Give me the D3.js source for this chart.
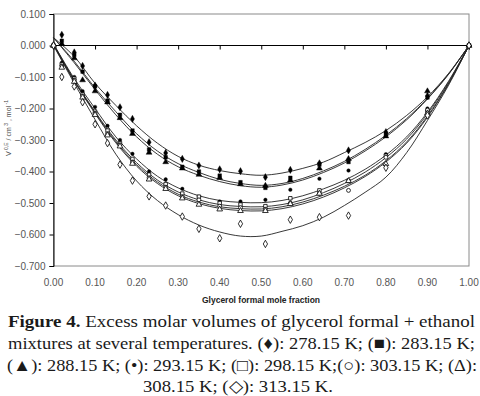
<!DOCTYPE html>
<html>
<head>
<meta charset="utf-8">
<script src="https://cdn.jsdelivr.net/npm/d3@7"></script>
<style>
  body { margin: 0; background: #fff; }
  svg { display: block; }
</style>
</head>
<body>
<div id="chart"></div>
<script>
// measured mole fractions (same for every temperature)
const xPoints = [0, 0.02, 0.05, 0.07, 0.10, 0.13, 0.16, 0.19, 0.23, 0.27, 0.31,
  0.35, 0.40, 0.45, 0.51, 0.57, 0.64, 0.71, 0.80, 0.90, 1.00];
// grid used for the fitted curves
const xCurve = [0, 0.05, 0.10, 0.15, 0.20, 0.25, 0.30, 0.35, 0.40, 0.45, 0.50,
  0.55, 0.60, 0.65, 0.70, 0.75, 0.80, 0.85, 0.90, 0.95, 1.00];

const temps = ["278.15", "283.15", "288.15", "293.15", "298.15", "303.15", "308.15", "313.15"];

// experimental points, V0E / cm3 mol-1
const p278 = [0, 0.034, -0.022, -0.065, -0.127, -0.157, -0.196, -0.233, -0.307, -0.341, -0.360,
  -0.381, -0.393, -0.399, -0.418, -0.395, -0.374, -0.333, -0.275, -0.160, 0];
const p283 = [0, 0.015, -0.030, -0.083, -0.130, -0.175, -0.220, -0.270, -0.330, -0.355, -0.385,
  -0.400, -0.413, -0.434, -0.452, -0.420, -0.378, -0.370, -0.282, -0.165, 0];
const p288 = [0, 0.005, -0.040, -0.110, -0.145, -0.180, -0.230, -0.280, -0.340, -0.370, -0.390,
  -0.410, -0.420, -0.440, -0.445, -0.428, -0.390, -0.360, -0.288, -0.145, 0];
const p293 = [0, -0.055, -0.100, -0.145, -0.195, -0.255, -0.300, -0.344, -0.400, -0.425, -0.455,
  -0.480, -0.495, -0.495, -0.490, -0.458, -0.423, -0.397, -0.345, -0.200, 0];
const p298 = [0, -0.060, -0.105, -0.155, -0.210, -0.270, -0.310, -0.360, -0.410, -0.440, -0.470,
  -0.480, -0.500, -0.505, -0.510, -0.485, -0.460, -0.430, -0.350, -0.210, 0];
const p303 = [0, -0.065, -0.110, -0.160, -0.215, -0.280, -0.315, -0.370, -0.420, -0.450, -0.480,
  -0.490, -0.510, -0.515, -0.520, -0.500, -0.470, -0.460, -0.355, -0.205, 0];
const p308 = [0, -0.070, -0.115, -0.165, -0.220, -0.285, -0.320, -0.375, -0.425, -0.455, -0.485,
  -0.505, -0.520, -0.525, -0.525, -0.503, -0.470, -0.430, -0.376, -0.215, 0];
const p313 = [0, -0.100, -0.130, -0.180, -0.250, -0.310, -0.378, -0.429, -0.479, -0.508, -0.543,
  -0.582, -0.612, -0.566, -0.630, -0.553, -0.545, -0.540, -0.388, -0.222, 0];

// fitted curves
const c278 = [0.025, -0.035, -0.120, -0.190, -0.255, -0.310, -0.352, -0.380, -0.397, -0.407, -0.412,
  -0.405, -0.390, -0.370, -0.340, -0.308, -0.270, -0.222, -0.163, -0.090, 0];
const c283 = [0.025, -0.050, -0.135, -0.210, -0.280, -0.335, -0.375, -0.403, -0.425, -0.438, -0.444,
  -0.438, -0.422, -0.398, -0.368, -0.330, -0.285, -0.232, -0.168, -0.092, 0];
const c288 = [0.025, -0.055, -0.140, -0.220, -0.290, -0.345, -0.385, -0.412, -0.432, -0.445, -0.450,
  -0.443, -0.427, -0.403, -0.373, -0.335, -0.290, -0.236, -0.170, -0.093, 0];
const c293 = [0.005, -0.105, -0.200, -0.290, -0.360, -0.415, -0.452, -0.477, -0.492, -0.498, -0.499,
  -0.492, -0.477, -0.455, -0.428, -0.393, -0.348, -0.290, -0.212, -0.115, 0];
const c298 = [0.005, -0.110, -0.210, -0.300, -0.372, -0.427, -0.465, -0.490, -0.505, -0.511, -0.512,
  -0.505, -0.490, -0.467, -0.438, -0.402, -0.356, -0.297, -0.217, -0.118, 0];
const c303 = [0.003, -0.112, -0.213, -0.305, -0.378, -0.433, -0.472, -0.497, -0.512, -0.518, -0.519,
  -0.512, -0.497, -0.475, -0.447, -0.412, -0.366, -0.306, -0.224, -0.122, 0];
const c308 = [0.002, -0.114, -0.216, -0.309, -0.383, -0.438, -0.477, -0.502, -0.517, -0.524, -0.525,
  -0.518, -0.503, -0.481, -0.452, -0.416, -0.370, -0.310, -0.228, -0.124, 0];
const c313 = [0, -0.120, -0.235, -0.345, -0.430, -0.492, -0.537, -0.570, -0.592, -0.605, -0.605,
  -0.590, -0.572, -0.545, -0.508, -0.466, -0.418, -0.340, -0.238, -0.128, 0];

const pointSets = [p278, p283, p288, p293, p298, p303, p308, p313];
const curveSets = [c278, c283, c288, c293, c298, c303, c308, c313];

const xTicks = [0, 0.1, 0.2, 0.3, 0.4, 0.5, 0.6, 0.7, 0.8, 0.9, 1.0];
const yTicks = [0.1, 0, -0.1, -0.2, -0.3, -0.4, -0.5, -0.6, -0.7];

const captionLines = [
  "Excess molar volumes of glycerol formal + ethanol",
  "mixtures at several temperatures. (\u2666): 278.15 K; (\u25A0): 283.15 K;",
  "(\u25B2): 288.15 K; (\u2022): 293.15 K; (\u25A1): 298.15 K;(\u25CB): 303.15 K; (\u0394):",
  "308.15 K; (\u25C7): 313.15 K."
];

// marker style per temperature
const markers = [
  { type: d3.symbolDiamond, size: 15, fill: true },
  { type: d3.symbolSquare, size: 13, fill: true },
  { type: d3.symbolTriangle, size: 15, fill: true },
  { type: d3.symbolCircle, size: 10, fill: true },
  { type: d3.symbolSquare, size: 12, fill: false },
  { type: d3.symbolCircle, size: 12, fill: false },
  { type: d3.symbolTriangle, size: 14, fill: false },
  { type: d3.symbolDiamond, size: 16, fill: false }
];

const width = 480, height = 396;
const plot = { left: 53.5, right: 469, top: 14, bottom: 266 };
const AXIS_FONT = "'Liberation Sans', Arial, sans-serif";
const SERIF = "'Liberation Serif', 'Times New Roman', serif";

const svg = d3.select("#chart").append("svg")
  .attr("width", width).attr("height", height);

const x = d3.scaleLinear().domain([0, 1]).range([plot.left, plot.right]);
const y = d3.scaleLinear().domain([-0.7, 0.1]).range([plot.bottom, plot.top]);

// plot frame
svg.append("rect")
  .attr("x", plot.left).attr("y", plot.top)
  .attr("width", plot.right - plot.left).attr("height", plot.bottom - plot.top)
  .attr("fill", "none").attr("stroke", "#8a8a8a").attr("stroke-width", 1);

// y axis
const yAxis = svg.append("g")
  .attr("transform", `translate(${plot.left},0)`)
  .call(d3.axisLeft(y).tickValues(yTicks).tickFormat(d3.format(".3f")).tickSize(4).tickPadding(4));
yAxis.select(".domain").attr("stroke", "#000");
yAxis.selectAll(".tick line").attr("stroke", "#000");
yAxis.selectAll("text").attr("font-family", AXIS_FONT).attr("font-size", 10).attr("fill", "#555");

// zero line with x ticks
const xAxis = svg.append("g")
  .attr("transform", `translate(0,${y(0)})`)
  .call(d3.axisBottom(x).tickValues(xTicks).tickSize(4).tickFormat(""));
xAxis.select(".domain").attr("stroke", "#000").attr("d", `M${plot.left},0H${plot.right}`);
xAxis.selectAll(".tick line").attr("stroke", "#000");

// x tick labels at the bottom of the plot
svg.append("g").selectAll("text")
  .data(xTicks)
  .enter().append("text")
  .attr("x", (d) => x(d))
  .attr("y", plot.bottom + 20)
  .attr("text-anchor", "middle")
  .attr("font-family", AXIS_FONT).attr("font-size", 10).attr("fill", "#555")
  .text((d) => d3.format(".2f")(d));

// axis titles
svg.append("text")
  .attr("x", 261).attr("y", 303)
  .attr("text-anchor", "middle")
  .attr("font-family", AXIS_FONT).attr("font-size", 8.5).attr("font-weight", "bold")
  .attr("fill", "#222")
  .text("Glycerol formal mole fraction");

const yTitle = svg.append("text")
  .attr("transform", "translate(11,128) rotate(-90)")
  .attr("text-anchor", "middle")
  .attr("font-family", AXIS_FONT).attr("font-size", 7).attr("fill", "#444");
yTitle.append("tspan").text("V");
yTitle.append("tspan").attr("dy", -3).attr("font-size", 5).text(" 0,E");
yTitle.append("tspan").attr("dy", 3).text(" / cm");
yTitle.append("tspan").attr("dy", -3).attr("font-size", 5).text(" 3");
yTitle.append("tspan").attr("dy", 3).text(" , mol");
yTitle.append("tspan").attr("dy", -3).attr("font-size", 5).text(" -1");

// fitted curves
const line = d3.line()
  .x((d) => x(d[0]))
  .y((d) => y(d[1]))
  .curve(d3.curveCatmullRom.alpha(0.5));

svg.append("g").selectAll("path")
  .data(curveSets)
  .enter().append("path")
  .attr("d", (vals) => line(xCurve.map((xv, i) => [xv, vals[i]])))
  .attr("fill", "none")
  .attr("stroke", "#222")
  .attr("stroke-width", 0.9);

// experimental points
pointSets.forEach((vals, k) => {
  const m = markers[k];
  const sym = d3.symbol().type(m.type).size(m.size);
  svg.append("g")
    .attr("class", "series-" + temps[k])
    .selectAll("path")
    .data(xPoints.map((xv, i) => [xv, vals[i]]))
    .enter().append("path")
    .attr("transform", (d) => `translate(${x(d[0])},${y(d[1])})`)
    .attr("d", sym)
    .attr("fill", m.fill ? "#000" : "#fff")
    .attr("stroke", "#000")
    .attr("stroke-width", m.fill ? 0.4 : 0.8);
});

// caption
const cap = svg.append("g")
  .attr("font-family", SERIF).attr("font-size", 17).attr("fill", "#1a1a1a");

const widths = [467, 467, 470, 190];
const baselines = [327, 349, 371, 392];
const centers = [241.5, 241.5, 242, 238];

captionLines.forEach((txt, i) => {
  const t = cap.append("text")
    .attr("x", centers[i]).attr("y", baselines[i])
    .attr("text-anchor", "middle")
    .attr("textLength", widths[i])
    .attr("lengthAdjust", "spacingAndGlyphs");
  if (i === 0) {
    t.append("tspan").attr("font-weight", "bold").text("Figure 4. ");
  }
  t.append("tspan").text(txt);
});
</script>
</body>
</html>
